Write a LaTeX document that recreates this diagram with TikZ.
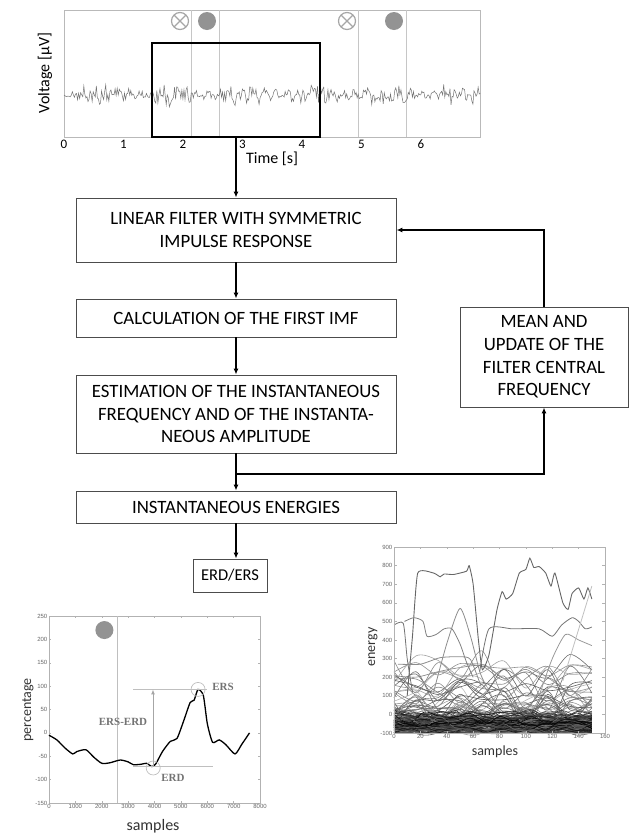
\documentclass[tikz,border=0pt]{standalone}
\usepackage{fontspec}
\setmainfont{Carlito}
\newfontfamily\plotfont{Liberation Sans}
\newfontfamily\markfont{Liberation Serif}
\usetikzlibrary{arrows.meta}
\tikzset{
  stage/.style = {draw=black!70, line width=0.9pt, align=center,
                  inner sep=2pt, minimum width=#1,
                  font=\fontsize{18.8}{22.6}\selectfont},
  stage/.default = 320pt,
  flow/.style = {black, line width=1.2pt, -{Latex[length=6pt,width=5pt]}},
  ticklab/.style = {font=\plotfont\fontsize{6}{6}\selectfont, text=black!60, inner sep=1.5pt},
  axlab/.style = {font=\fontsize{14}{14}\selectfont, text=black!80},
  marklab/.style = {font=\markfont\bfseries\fontsize{11}{11}\selectfont, text=black!55}
}

\begin{document}
\begin{tikzpicture}[x=1pt, y=-1pt]
	\def \sec{59.5}
	\useasboundingbox (0,0) rectangle (629,836);

	% EEG trace
	\draw[gray!55, line width=0.8pt] (64,10) rectangle (480,137);
	\foreach \xl in {191,219,358,406}
		\draw[gray!45, line width=0.8pt] (\xl,10) -- (\xl,137);
	\pgfmathsetseed{11}
	\draw[black!55, line width=0.5pt] plot[domain=0:7, samples=400, variable=\t]
		({64+\sec*\t}, {95 + 3*sin(1900*\t) + (3+7*abs(sin(150*\t))^2)*rand});
	\foreach \i in {0,...,6}
		\node[font=\fontsize{13}{13}\selectfont] at (64+\i*\sec,144) {\i};
	\node[font=\fontsize{16}{16}\selectfont] at (272,159) {Time [s]};
	\node[font=\fontsize{16}{16}\selectfont, rotate=90] at (45,73) {Voltage [µV]};

	% cue symbols
	\foreach \xc/\xd in {180/207,347/394}{
		\draw[gray!70, line width=1.2pt] (\xc,21) circle[radius=8.5pt];
		\draw[gray!70, line width=1.2pt] (\xc-6,15) -- (\xc+6,27) (\xc-6,27) -- (\xc+6,15);
		\fill[gray!85] (\xd,21) circle[radius=9pt];
	}
	\node[draw, line width=2pt, minimum width=168pt, minimum height=94pt, inner sep=0pt] (win) at (236,90) {};

	% Flow chart
	\node[stage, minimum height=64pt] (filt) at (236,230) {LINEAR FILTER WITH SYMMETRIC\\IMPULSE RESPONSE};
	\node[stage, minimum height=38pt] (imf) at (236,318) {CALCULATION OF THE FIRST IMF};
	\node[stage, minimum height=78pt] (est) at (236,414) {ESTIMATION OF THE INSTANTANEOUS\\FREQUENCY AND OF THE INSTANTA-\\NEOUS AMPLITUDE};
	\node[stage, minimum height=32pt] (energ) at (236,507) {INSTANTANEOUS ENERGIES};
	\node[stage=74pt, minimum height=33pt, font=\fontsize{16.5}{18}\selectfont] (erd) at (230,575.5) {ERD/ERS};
	\node[stage=168pt, minimum height=100pt] (mean) at (544,357) {MEAN AND\\UPDATE OF THE\\FILTER CENTRAL\\FREQUENCY};
	\coordinate (brk) at (236,474);

	\draw[flow] (win.south) -- (filt.north);
	\draw[flow] (filt.south) -- (imf.north);
	\draw[flow] (imf.south) -- (est.north);
	\draw[flow] (est.south) -- (energ.north);
	\draw[flow] (brk) -| (mean.south);
	\draw[flow] (mean.north) |- (filt.east);
	\draw[flow] (energ.south) -- (energ.south |- erd.north);

	% ERD/ERS curve
	\begin{scope}[shift={(49,732.9)}, x=0.02638pt, y=0.4675pt]
		\draw[gray!60, line width=0.6pt] (0,-150) rectangle (8000,250);
		\foreach \v in {-150,-100,...,250}{
			\node[ticklab, anchor=east] at (0,\v) {\v};
			\draw[gray!60, line width=0.4pt] (0,\v) -- ++(90,0) (8000,\v) -- ++(-90,0);
		}
		\foreach \v in {0,1000,...,8000}{
			\node[ticklab, anchor=north] at (\v,-150) {\v};
			\draw[gray!60, line width=0.4pt] (\v,-150) -- ++(0,5) (\v,250) -- ++(0,-5);
		}
		\draw[gray!50, line width=0.6pt] (2600,-150) -- (2600,250);
		\fill[gray!85] (2100,220) circle[radius=9pt];
		\draw[black, line width=1.3pt] plot[smooth, tension=0.4] coordinates {
			(0,-5) (300,-15) (600,-32) (900,-45) (1050,-40) (1400,-36) (1700,-52)
			(2000,-65) (2300,-64) (2700,-58) (3000,-62) (3200,-68) (3500,-67)
			(3700,-65) (3900,-72) (4050,-66) (4300,-40) (4600,-18) (4850,-12)
			(5100,25) (5350,65) (5500,70) (5650,93) (5850,80) (6000,20)
			(6200,-20) (6450,-15) (6700,-25) (7050,-45) (7300,-25) (7600,0)};
		\draw[gray!50, line width=0.7pt] (3184,93) -- (5987,93);
		\draw[gray!50, line width=0.7pt] (3184,-72) -- (6200,-72);
		\draw[gray!70, line width=1pt, -{Latex[length=5pt,width=4pt]}] (3942,-72) -- (3942,93);
		\draw[gray!50, line width=0.7pt] (3950,-75) circle[radius=7pt];
		\draw[gray!50, line width=0.7pt] (5650,93) circle[radius=7pt];
		\node[marklab] at (6596,98) {ERS};
		\node[marklab] at (2805,23) {ERS-ERD};
		\node[marklab] at (4700,-96) {ERD};
	\end{scope}
	\node[axlab, rotate=90] at (28,710) {percentage};
	\node[axlab, font=\fontsize{16}{16}\selectfont] at (153,826) {samples};

	% Instantaneous energies
	\begin{scope}[shift={(394,714.4)}, x=1.319pt, y=0.186pt]
		\pgfmathsetseed{5}
		\foreach \k in {1,...,40}{
			\pgfmathsetmacro\lev{-20+260*rnd^2}
			\pgfmathsetmacro\amp{40+110*rnd}
			\pgfmathtruncatemacro\shade{25+45*rnd}
			\draw[black!\shade, line width=0.6pt] plot[smooth, domain=0:150, samples=10]
				(\x, {max(-98, \lev + \amp*rand)});
		}
		\foreach \k in {1,...,110}{
			\pgfmathsetmacro\lev{-88+90*rnd^1.5}
			\pgfmathsetmacro\amp{12+30*rnd}
			\pgfmathtruncatemacro\shade{50+50*rnd}
			\draw[black!\shade, line width=0.5pt] plot[smooth, domain=0:150, samples=14]
				(\x, {max(-98, \lev + \amp*rand)});
		}
		\draw[black!60, line width=0.9pt] plot[smooth, tension=0.3] coordinates {
			(10,100) (14,420) (18,760) (30,760) (35,740) (38,755) (45,752) (55,770)
			(57,800) (60,700) (64,400) (67,240) (72,320) (78,560) (82,660) (85,620)
			(90,650) (95,760) (100,780) (103,840) (106,790) (110,795) (115,760)
			(119,690) (122,760) (128,600) (132,565) (135,650) (140,680) (144,620)
			(147,680) (150,620)};
		\draw[black!55, line width=0.8pt] plot[smooth, tension=0.4] coordinates {
			(0,480) (7,490) (10,300) (14,120)};
		\draw[black!50, line width=0.8pt] plot[smooth, tension=0.4] coordinates {
			(8,500) (15,520) (22,500) (25,420) (32,430) (38,460) (44,460)
			(50,380) (55,280) (60,200)};
		\draw[black!45, line width=0.8pt] plot[smooth, tension=0.4] coordinates {
			(30,120) (40,380) (50,570) (58,420) (65,230) (70,150)};
		\draw[black!55, line width=0.8pt] plot[smooth, tension=0.4] coordinates {
			(65,230) (72,460) (90,460) (110,460) (120,420) (127,480) (135,520)
			(140,500) (145,460) (150,470)};
		\draw[black!45, line width=0.8pt] plot[smooth, tension=0.4] coordinates {
			(3,270) (20,270) (35,305) (50,310) (58,295) (66,150)};
		\draw[black!40, line width=0.8pt] plot[smooth, tension=0.4] coordinates {
			(110,100) (120,300) (130,430) (140,400) (150,370)};
		\draw[black!25, line width=0.8pt] (128,180) -- (150,690);
		\draw[gray!60, line width=0.6pt] (0,-100) rectangle (160,900);
		\foreach \v in {-100,0,...,900}{
			\node[ticklab, anchor=east] at (0,\v) {\v};
			\draw[gray!60, line width=0.4pt] (0,\v) -- ++(2,0) (160,\v) -- ++(-2,0);
		}
		\foreach \v in {0,20,...,160}{
			\node[ticklab, anchor=north] at (\v,-100) {\v};
			\draw[gray!60, line width=0.4pt] (\v,-100) -- ++(0,12) (\v,900) -- ++(0,-12);
		}
	\end{scope}
	\node[axlab, rotate=90] at (373,647) {energy};
	\node[axlab] at (495,752) {samples};
\end{tikzpicture}
\end{document}
